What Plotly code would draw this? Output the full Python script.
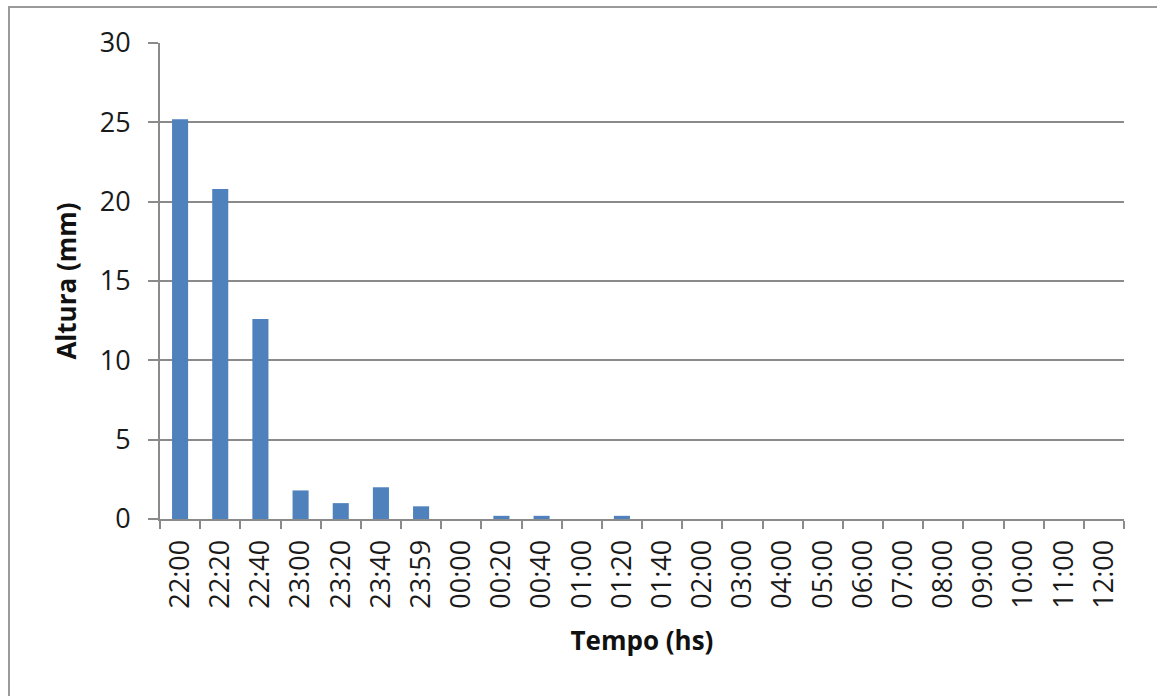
import plotly.graph_objects as go

# Rainfall depth per time interval
tempos = ["22:00", "22:20", "22:40", "23:00", "23:20", "23:40", "23:59", "00:00",
          "00:20", "00:40", "01:00", "01:20", "01:40", "02:00", "03:00", "04:00",
          "05:00", "06:00", "07:00", "08:00", "09:00", "10:00", "11:00", "12:00"]
altura_mm = [25.2, 20.8, 12.6, 1.8, 1.0, 2.0, 0.8, 0.0,
             0.2, 0.2, 0.0, 0.2, 0.0, 0.0, 0.0, 0.0,
             0.0, 0.0, 0.0, 0.0, 0.0, 0.0, 0.0, 0.0]
y_ticks = [0, 5, 10, 15, 20, 25, 30]

W, H = 1157, 696
L, R, T, B = 160, 33, 43, 177
pw, ph = W - L - R, H - T - B

FONT = "Open Sans"
GRID = "#8a8a8a"

fig = go.Figure(go.Bar(
    x=tempos, y=altura_mm,
    marker=dict(color="#4F81BD", line=dict(width=0)),
))

# outer chart frame (only left/top edges fall inside the page)
def px_to_paper_x(px):
    return (px - L) / pw

def px_to_paper_y(py):
    return (H - B - py) / ph

fig.add_shape(type="rect", xref="paper", yref="paper",
              x0=px_to_paper_x(9), x1=px_to_paper_x(W + 20),
              y0=px_to_paper_y(H + 20), y1=px_to_paper_y(7),
              line=dict(color="#9a9a9a", width=2), fillcolor="rgba(0,0,0,0)",
              layer="below")

fig.update_layout(
    width=W, height=H,
    margin=dict(l=L, r=R, t=T, b=B),
    paper_bgcolor="white", plot_bgcolor="white",
    bargap=0.6,
    showlegend=False,
    font=dict(family=FONT, color="#1a1a1a", size=26),
    xaxis=dict(
        type="category",
        tickangle=-90,
        tickfont=dict(family=FONT, size=27, color="#1a1a1a"),
        showgrid=False,
        showline=True, linecolor=GRID, linewidth=2,
        ticks="outside", ticklen=8, tickwidth=2, tickcolor=GRID,
        tickson="boundaries",
        ticklabelstandoff=8,
        title=dict(text="<b>Tempo (hs)</b>", font=dict(family=FONT, size=26, color="#111"),
                   standoff=24),
        range=[-0.5, len(tempos) - 0.5],
    ),
    yaxis=dict(
        range=[0, 30],
        tickvals=y_ticks,
        tickfont=dict(family=FONT, size=27, color="#1a1a1a"),
        showgrid=True, gridcolor=GRID, gridwidth=2,
        showline=True, linecolor=GRID, linewidth=2,
        ticks="outside", ticklen=10, tickwidth=2, tickcolor=GRID,
        ticklabelstandoff=12,
        zeroline=False,
        title=dict(text="<b>Altura (mm)</b>", font=dict(family=FONT, size=26, color="#111"),
                   standoff=16),
    ),
)

fig.write_html("out.html")
